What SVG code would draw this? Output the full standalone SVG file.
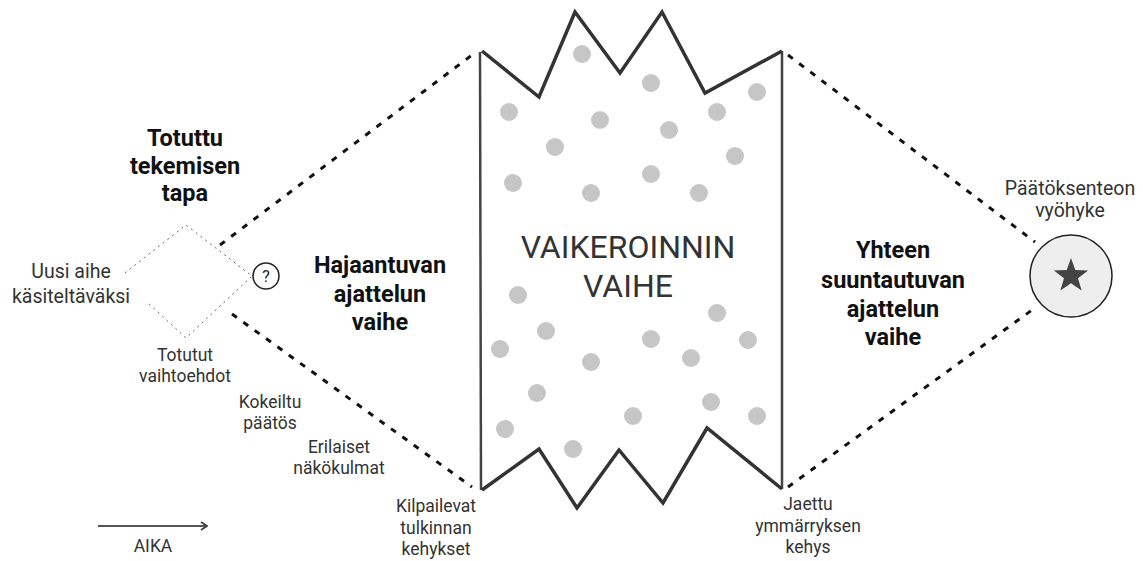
<svg xmlns="http://www.w3.org/2000/svg" width="1143" height="561" viewBox="0 0 1143 561">
<style>
text{font-family:Roboto,"Liberation Sans",sans-serif;text-anchor:middle;fill:#333}
.t{font-size:23.5px;font-weight:bold;fill:#111}
.s{font-size:17.5px}
.m{font-size:19.5px}
.big{font-size:32px;fill:#333}
.dash{fill:none;stroke:#111;stroke-width:3;stroke-dasharray:6,8}
.dot{fill:#c6c6c6}
.zig{fill:none;stroke:#333;stroke-width:3.5;stroke-linejoin:miter}
.side{stroke:#444;stroke-width:2.5}
.thin{fill:none;stroke:#666;stroke-width:1;stroke-dasharray:2,4}
</style>
<defs>
<marker id="chev" viewBox="0 0 10 10" refX="9" refY="5" markerWidth="10" markerHeight="10" markerUnits="userSpaceOnUse" orient="auto">
<path d="M3,1 L9,5 L3,9" fill="none" stroke="#444" stroke-width="1.8"/>
</marker>
</defs>
<g id="connectors">
<line class="dash" x1="220" y1="245" x2="472" y2="55"/>
<line class="dash" x1="232" y1="314" x2="472" y2="487"/>
<line class="dash" x1="788" y1="55" x2="1035" y2="242"/>
<line class="dash" x1="788" y1="487" x2="1032" y2="310"/>
<line x1="98" y1="526" x2="207" y2="526" stroke="#555" stroke-width="2.2" marker-end="url(#chev)"/>
</g>
<g id="diamond">
<path class="thin" d="M125,273 L186,225 L252,276 L186,338 L147,302"/>
</g>
<g id="question">
<circle cx="266" cy="276" r="13" fill="#fff" stroke="#222" stroke-width="1.5"/>
<text x="266" y="282" style="font-size:16px;fill:#222">?</text>
</g>
<g id="chaos">
<line class="side" x1="480" y1="52" x2="481" y2="490"/>
<line class="side" x1="782" y1="51" x2="782" y2="489"/>
<g>
<circle class="dot" cx="582" cy="54" r="9"/>
<circle class="dot" cx="509" cy="112" r="9"/>
<circle class="dot" cx="600" cy="120" r="9"/>
<circle class="dot" cx="651" cy="83" r="9"/>
<circle class="dot" cx="717" cy="112" r="9"/>
<circle class="dot" cx="757" cy="92" r="9"/>
<circle class="dot" cx="669" cy="130" r="9"/>
<circle class="dot" cx="555" cy="147" r="9"/>
<circle class="dot" cx="735" cy="156" r="9"/>
<circle class="dot" cx="513" cy="183" r="9"/>
<circle class="dot" cx="651" cy="174" r="9"/>
<circle class="dot" cx="591" cy="193" r="9"/>
<circle class="dot" cx="699" cy="193" r="9"/>
<circle class="dot" cx="518" cy="295" r="9"/>
<circle class="dot" cx="717" cy="313" r="9"/>
<circle class="dot" cx="546" cy="331" r="9"/>
<circle class="dot" cx="500" cy="349" r="9"/>
<circle class="dot" cx="651" cy="339" r="9"/>
<circle class="dot" cx="748" cy="340" r="9"/>
<circle class="dot" cx="591" cy="362" r="9"/>
<circle class="dot" cx="691" cy="358" r="9"/>
<circle class="dot" cx="537" cy="393" r="9"/>
<circle class="dot" cx="711" cy="402" r="9"/>
<circle class="dot" cx="633" cy="416" r="9"/>
<circle class="dot" cx="757" cy="416" r="9"/>
<circle class="dot" cx="505" cy="429" r="9"/>
<circle class="dot" cx="573" cy="449" r="9"/>
</g>
<polyline class="zig" points="482,51 539,97 575,12 620,73 662,12 705,93 782,51"/>
<polyline class="zig" points="482,490 539,449 577,508 619,450 663,503 707,428 782,489"/>
<text class="big" x="628" y="258">VAIKEROINNIN</text>
<text class="big" x="628" y="297">VAIHE</text>
</g>
<g id="decision">
<circle cx="1071" cy="276" r="41" fill="#eee" stroke="#222" stroke-width="1.5"/>
<path d="M1071,258 L1075.3,270.1 L1088.1,270.4 L1078,278.2 L1081.6,290.5 L1071,283.3 L1060.4,290.5 L1064,278.2 L1053.9,270.4 L1066.7,270.1 Z" fill="#444"/>
</g>
<g id="labels">
<text class="t" x="185" y="146">Totuttu</text>
<text class="t" x="185" y="174">tekemisen</text>
<text class="t" x="185" y="201">tapa</text>
<text class="m" x="71" y="278">Uusi aihe</text>
<text class="m" x="71" y="303">käsiteltäväksi</text>
<text class="s" x="185" y="361">Totutut</text>
<text class="s" x="185" y="382">vaihtoehdot</text>
<text class="s" x="270" y="408">Kokeiltu</text>
<text class="s" x="270" y="429">päätös</text>
<text class="s" x="339" y="453">Erilaiset</text>
<text class="s" x="339" y="474">näkökulmat</text>
<text class="s" x="436" y="512">Kilpailevat</text>
<text class="s" x="436" y="534">tulkinnan</text>
<text class="s" x="436" y="555">kehykset</text>
<text class="t" x="380" y="273">Hajaantuvan</text>
<text class="t" x="380" y="302">ajattelun</text>
<text class="t" x="380" y="330">vaihe</text>
<text class="t" x="893" y="258">Yhteen</text>
<text class="t" x="893" y="288">suuntautuvan</text>
<text class="t" x="893" y="317">ajattelun</text>
<text class="t" x="893" y="345">vaihe</text>
<text class="m" x="1070" y="195">Päätöksenteon</text>
<text class="m" x="1070" y="217">vyöhyke</text>
<text class="s" x="808" y="510">Jaettu</text>
<text class="s" x="808" y="532">ymmärryksen</text>
<text class="s" x="808" y="553">kehys</text>
<text class="s" x="153" y="552">AIKA</text>
</g>
</svg>
